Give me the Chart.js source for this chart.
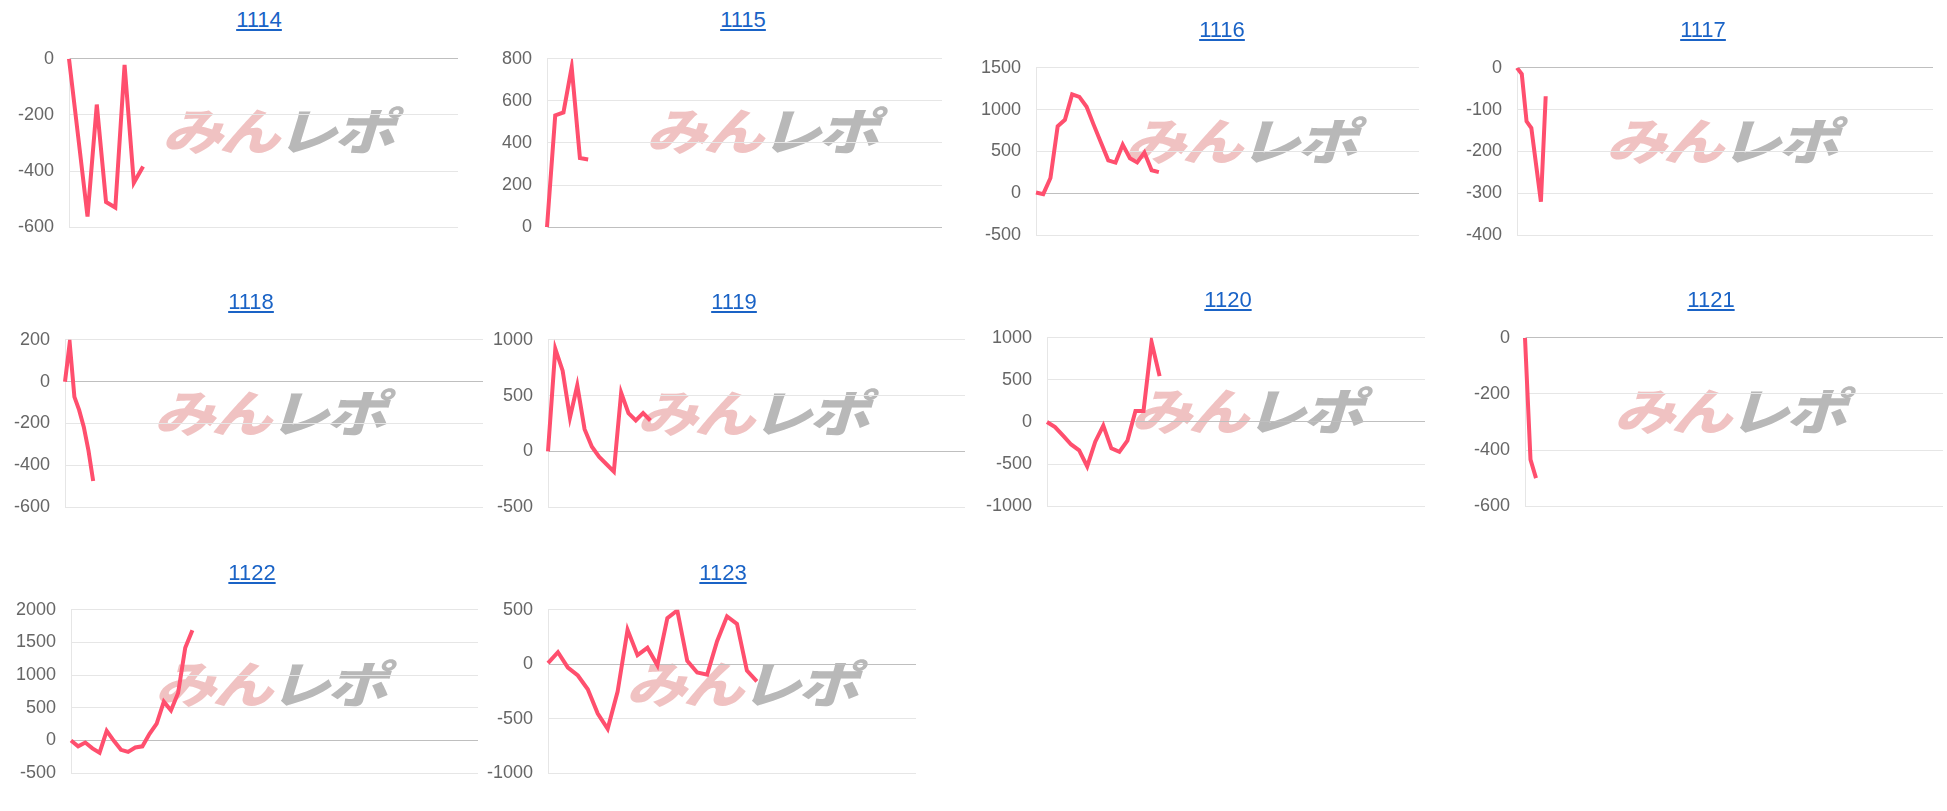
<!DOCTYPE html>
<html lang="ja">
<head>
<meta charset="utf-8">
<title>みんレポ グラフ</title>
<script src="https://cdn.jsdelivr.net/npm/chart.js@4/dist/chart.umd.min.js"></script>
<style>
  html, body { margin: 0; padding: 0; background: #fff; }
  body { position: relative; width: 1947px; height: 811px; overflow: hidden; font-family: "Liberation Sans", Arial, sans-serif; }
  .title { position: absolute; transform: translate(-50%, -50%); font-size: 22px; color: #1a63c6; text-decoration: underline; white-space: nowrap; z-index: 2; }
  .mark { position: absolute; transform: translate(-50%, -50%) scaleX(1.22) skewX(-14deg); font-family: "Noto Sans CJK JP", sans-serif; font-weight: 900; font-size: 50px; line-height: 1; white-space: nowrap; z-index: 0; letter-spacing: -3px; }
  .mark .a { color: #f0c2c2; }
  .mark .b { color: #b8b8b8; }
  .box { position: absolute; z-index: 1; }
</style>
</head>
<body>
<script>
// machine numbers
const machines = ['1114', '1115', '1116', '1117', '1118', '1119', '1120', '1121', '1122', '1123'];

// 差枚 values per machine
const diff1114 = [0, -280, -562, -163, -510, -530, -22, -442, -384];
const diff1115 = [0, 531, 545, 760, 329, 322];
const diff1116 = [10, -10, 184, 802, 878, 1182, 1152, 1035, 815, 605, 394, 368, 582, 419, 370, 488, 276, 254];
const diff1117 = [0, -15, -128, -144, -232, -320, -68];
const diff1118 = [0, 185, -73, -135, -216, -330, -475];
const diff1119 = [0, 919, 723, 303, 591, 199, 42, -50, -115, -181, 526, 343, 277, 343, 277];
const diff1120 = [0, -60, -163, -267, -337, -528, -234, -42, -313, -355, -222, 132, 132, 951, 545];
const diff1121 = [0, -434, -500];
const diff1122 = [0, -89, -31, -120, -187, 147, -5, -142, -174, -107, -89, 103, 260, 595, 460, 728, 1420, 1688];
const diff1123 = [10, 111, -30, -103, -229, -452, -593, -251, 317, 84, 151, -10, 424, 494, 31, -76, -95, 211, 440, 371, -58, -157];

// number of x slots per machine
const slots = [43, 49, 54, 88, 90, 58, 48, 77, 58, 38];

// y axis ranges: min, max, step
const yMin = [-600, 0, -500, -400, -600, -500, -1000, -600, -500, -1000];
const yMax = [0, 800, 1500, 0, 200, 1000, 1000, 0, 2000, 500];
const yStep = [200, 200, 500, 100, 200, 500, 500, 200, 500, 500];

const series = [diff1114, diff1115, diff1116, diff1117, diff1118, diff1119, diff1120, diff1121, diff1122, diff1123];

// layout: plot left, right, top, bottom, title x, title y
const frames = [
  [69, 458, 47, 239, 259, 20],
  [547, 942, 47, 239, 743, 20],
  [1036, 1419, 56, 247, 1222, 30],
  [1517, 1933, 56, 247, 1703, 30],
  [65, 483, 328, 519, 251, 302],
  [548, 965, 328, 519, 734, 302],
  [1047, 1425, 326, 518, 1228, 300],
  [1525, 1943, 326, 518, 1711, 300],
  [71, 478, 598, 785, 252, 573],
  [548, 916, 598, 785, 723, 573]
];

const AXIS_W = 70;
const PAD = 14;

Chart.defaults.font.family = '"Liberation Sans", Arial, sans-serif';

document.addEventListener('DOMContentLoaded', function () {
  machines.forEach(function (name, i) {
    const [pl, pr, pt, pb, tx, ty] = frames[i];

    const mark = document.createElement('div');
    mark.className = 'mark';
    mark.style.left = (tx + 24) + 'px';
    mark.style.top = (ty + 108) + 'px';
    mark.innerHTML = '<span class="a">みん</span><span class="b">レポ</span>';
    document.body.appendChild(mark);

    const title = document.createElement('a');
    title.className = 'title';
    title.href = '#';
    title.textContent = name;
    title.style.left = tx + 'px';
    title.style.top = ty + 'px';
    document.body.appendChild(title);

    const box = document.createElement('div');
    box.className = 'box';
    box.style.left = (pl - AXIS_W) + 'px';
    box.style.top = (pt - PAD) + 'px';
    box.style.width = (pr - pl + AXIS_W + 4) + 'px';
    box.style.height = (pb - pt + PAD * 2) + 'px';
    const canvas = document.createElement('canvas');
    box.appendChild(canvas);
    document.body.appendChild(box);

    const labels = Array.from({ length: slots[i] }, (_, k) => k + 1);

    new Chart(canvas.getContext('2d'), {
      type: 'line',
      data: {
        labels: labels,
        datasets: [{
          label: name,
          data: series[i],
          borderColor: '#ff4f6e',
          borderWidth: 4,
          pointRadius: 0,
          tension: 0,
          fill: false
        }]
      },
      options: {
        animation: false,
        responsive: true,
        maintainAspectRatio: false,
        layout: { padding: { top: PAD, bottom: PAD, right: 4, left: 0 } },
        plugins: { legend: { display: false }, tooltip: { enabled: false } },
        scales: {
          x: { display: false },
          y: {
            min: yMin[i],
            max: yMax[i],
            ticks: {
              stepSize: yStep[i],
              padding: 15,
              color: '#666',
              font: { size: 18 },
              callback: v => String(v)
            },
            grid: {
              drawTicks: false,
              color: ctx => (ctx.tick && ctx.tick.value === 0) ? '#bfbfbf' : '#e6e6e6'
            },
            border: { color: '#e6e6e6' },
            afterFit: function (scale) { scale.width = AXIS_W; }
          }
        }
      }
    });
  });
});
</script>
</body>
</html>
